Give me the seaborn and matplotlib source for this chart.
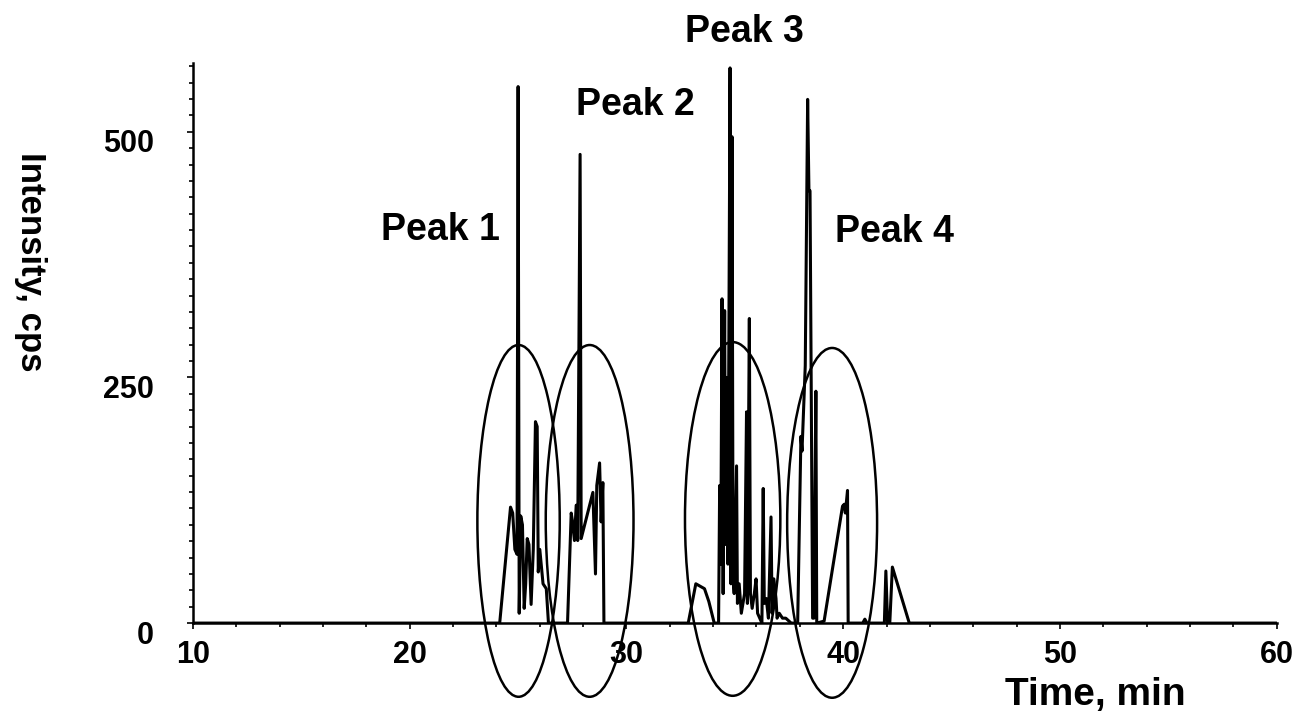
import numpy as np
import pandas as pd
import matplotlib
matplotlib.use("Agg")
import matplotlib.pyplot as plt
from matplotlib.patches import Ellipse
from matplotlib.ticker import MultipleLocator
from matplotlib.transforms import ScaledTranslation
import seaborn as sns

# ---- data ----
time_min = [10.0, 24.15, 24.65, 24.75, 24.85, 24.95, 25.0, 25.05, 25.12, 25.2, 25.28, 25.35,
            25.42, 25.5, 25.6, 25.7, 25.8, 25.88, 25.93, 26.0, 26.15, 26.3, 26.4,
            27.28, 27.45, 27.5, 27.6, 27.68, 27.75, 27.86, 27.91, 28.45, 28.57, 28.63,
            28.76, 28.83, 28.91, 28.96,
            32.85, 33.2, 33.6, 33.8, 34.05, 34.25, 34.3, 34.35, 34.41, 34.46, 34.53, 34.57,
            34.62, 34.68, 34.78, 34.82, 34.87, 34.92, 34.97, 35.08, 35.12, 35.2, 35.3,
            35.45, 35.54, 35.58, 35.67, 35.72, 35.8, 35.9, 35.98, 36.05, 36.15, 36.25,
            36.31, 36.36, 36.45, 36.55, 36.67, 36.72, 36.8, 36.9, 36.95, 37.05, 37.2,
            37.35, 37.6,
            37.9, 38.05, 38.1, 38.25, 38.36, 38.42, 38.47, 38.59, 38.65, 38.74, 38.78,
            39.12, 39.97, 40.05, 40.1, 40.2, 40.23,
            40.9, 41.0, 41.1, 41.9, 41.97, 42.05, 42.15, 42.27, 43.05, 60.0]
intensity_cps = [0, 0, 118, 112, 75, 70, 546, 10, 109, 100, 15, 40,
                 86, 80, 19, 75, 205, 200, 52, 75, 40, 35, 0,
                 0, 112, 105, 84, 120, 84, 477, 86, 133, 50, 140,
                 163, 103, 143, 0,
                 0, 40, 35, 22, 0, 0, 140, 60, 330, 30, 318, 80,
                 250, 60, 565, 40, 495, 46, 30, 160, 20, 40, 10,
                 30, 215, 20, 310, 30, 15, 30, 45, 10, 5, 0,
                 137, 20, 25, 5, 108, 10, 45, 25, 5, 10, 5,
                 5, 0,
                 0, 190, 175, 262, 533, 440, 440, 5, 5, 236, 0,
                 2, 119, 121, 112, 135, 0,
                 0, 4, 0, 0, 53, 0, 0, 57, 0, 0]

peak_names = ["Peak 1", "Peak 2", "Peak 3", "Peak 4"]
label_time = [21.4, 30.4, 35.45, 42.35]
label_int = [400, 527, 602, 398]
ellipse_time = [25.02, 28.3, 34.9, 39.49]
ellipse_width = [3.8, 4.05, 4.4, 4.15]
ellipse_center = [104, 104, 106, 102]
ellipse_height = [358, 358, 360, 356]

x_ticks = [10, 20, 30, 40, 50, 60]
y_ticks = [0, 250, 500]

df = pd.DataFrame({"Time": time_min, "Intensity": intensity_cps})

sns.set_style("ticks")
plt.rcParams["font.family"] = ["Liberation Sans", "DejaVu Sans"]
plt.rcParams["font.weight"] = "bold"
plt.rcParams["text.color"] = "black"
plt.rcParams["xtick.color"] = "black"
plt.rcParams["ytick.color"] = "black"
plt.rcParams["xtick.labelcolor"] = "black"
plt.rcParams["ytick.labelcolor"] = "black"

fig = plt.figure(figsize=(13, 7.22), dpi=100)
ax = fig.add_axes([0.1485, 0.137, 0.982 - 0.1485, 0.9127 - 0.137])

sns.lineplot(data=df, x="Time", y="Intensity", sort=False, estimator=None,
             color="black", linewidth=2.2, ax=ax)

for t, w, c, h in zip(ellipse_time, ellipse_width, ellipse_center, ellipse_height):
    e = Ellipse((t, c), w, h, fill=False, edgecolor="black", linewidth=1.8, clip_on=False)
    ax.add_patch(e)

for name, t, v in zip(peak_names, label_time, label_int):
    ax.text(t, v, name, ha="center", va="center", fontsize=27, fontweight="bold",
            color="black", clip_on=False)

ax.set_xlim(10, 60)
ax.set_ylim(0, 570)
ax.set_xticks(x_ticks)
ax.set_yticks(y_ticks)
ax.xaxis.set_minor_locator(MultipleLocator(2))
ax.yaxis.set_minor_locator(MultipleLocator(250 / 15))
ax.tick_params(axis="both", which="both", direction="out", color="black", width=1.2)
ax.tick_params(axis="both", which="major", length=4, labelsize=22, labelcolor="black")
ax.tick_params(axis="both", which="minor", length=3)
ax.tick_params(axis="y", pad=24)
ax.tick_params(axis="x", pad=8)
for lab in ax.get_yticklabels():
    lab.set_fontweight("bold")
    lab.set_transform(lab.get_transform() + ScaledTranslation(0, -0.09, fig.dpi_scale_trans))
for lab in ax.get_xticklabels():
    lab.set_fontweight("bold")

sns.despine(ax=ax)
for s in ["left", "bottom"]:
    ax.spines[s].set_linewidth(1.8)
    ax.spines[s].set_color("black")

ax.set_xlabel("")
ax.set_ylabel("")
fig.text(1095 / 1300, 1 - 695 / 722, "Time, min", ha="center", va="center",
         fontsize=28, fontweight="bold", color="black")
fig.text(30 / 1300, 1 - 262 / 722, "Intensity, cps", ha="center", va="center",
         rotation=-90, fontsize=25, fontweight="bold", color="black")

fig.savefig("out.png", dpi=100, facecolor="white")
